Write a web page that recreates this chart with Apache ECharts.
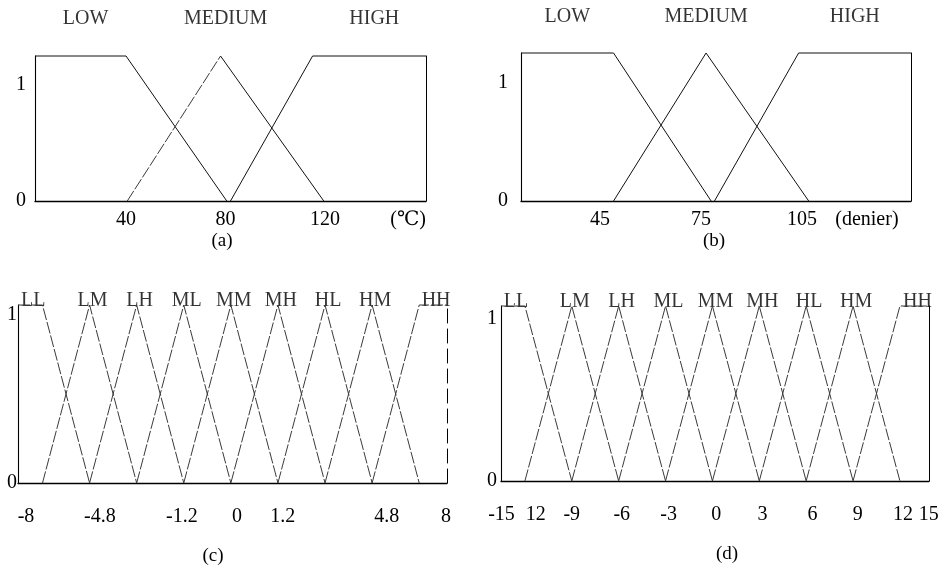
<!DOCTYPE html>
<html>
<head>
<meta charset="utf-8">
<title>membership functions</title>
<script src="https://cdn.jsdelivr.net/npm/echarts@6/dist/echarts.min.js"></script>
<style>
    html, body { margin: 0; padding: 0; background: #fff; }
    #main { width: 949px; height: 569px; }
</style>
</head>
<body>
<div id="main"></div>
<script>
    // (a) temperature
    let tempNames = ['LOW', 'MEDIUM', 'HIGH'];
    let tempLow = [[3.4, 1.25], [40, 1.25], [80.5, 0]];
    let tempMedium = [[40.5, 0], [78, 1.25], [119.5, 0]];
    let tempHigh = [[82, 0], [115, 1.25], [160.6, 1.25]];
    let tempTicks = [40, 80, 120, 153.4];
    let tempTickText = ['40', '80', '120', '(℃)'];

    // (b) denier
    let denierNames = ['LOW', 'MEDIUM', 'HIGH'];
    let denierLow = [[21.5, 1.25], [49, 1.25], [78, 0]];
    let denierMedium = [[49, 0], [76.5, 1.25], [107, 0]];
    let denierHigh = [[79, 0], [104, 1.25], [137.4, 1.25]];
    let denierTicks = [45, 75, 105, 124.3];
    let denierTickText = ['45', '75', '105', '(denier)'];

    // (c) nine sets, drawn evenly spaced
    let cNames = ['LL', 'LM', 'LH', 'ML', 'MM', 'MH', 'HL', 'HM', 'HH'];
    let cLL = [[-4.52, 1.06], [-4, 1.06], [-3, 0]];
    let cLM = [[-4, 0], [-3, 1.06], [-2, 0]];
    let cLH = [[-3, 0], [-2, 1.06], [-1, 0]];
    let cML = [[-2, 0], [-1, 1.06], [0, 0]];
    let cMM = [[-1, 0], [0, 1.06], [1, 0]];
    let cMH = [[0, 0], [1, 1.06], [2, 0]];
    let cHL = [[1, 0], [2, 1.06], [3, 0]];
    let cHM = [[2, 0], [3, 1.06], [4, 0]];
    let cHH = [[3, 0], [4, 1.06], [4.59, 1.06]];
    let cTicks = [-4.35, -2.78, -1.04, 0.13, 1.1, 3.31, 4.57];
    let cTickText = ['-8', '-4.8', '-1.2', '0', '1.2', '4.8', '8'];

    // (d)
    let dNames = ['LL', 'LM', 'LH', 'ML', 'MM', 'MH', 'HL', 'HM', 'HH'];
    let dLL = [[-13.53, 1.08], [-12, 1.08], [-9, 0]];
    let dLM = [[-12, 0], [-9, 1.08], [-6, 0]];
    let dLH = [[-9, 0], [-6, 1.08], [-3, 0]];
    let dML = [[-6, 0], [-3, 1.08], [0, 0]];
    let dMM = [[-3, 0], [0, 1.08], [3, 0]];
    let dMH = [[0, 0], [3, 1.08], [6, 0]];
    let dHL = [[3, 0], [6, 1.08], [9, 0]];
    let dHM = [[6, 0], [9, 1.08], [12, 0]];
    let dHH = [[9, 0], [12, 1.08], [13.86, 1.08]];
    let dTicks = [-13.5, -11.3, -9, -5.8, -2.8, 0.25, 3.2, 6.4, 9.3, 12.2, 13.84];
    let dTickText = ['-15', '12', '-9', '-6', '-3', '0', '3', '6', '9', '12', '15'];

    let yTicks = [0, 1];

    let serif = "'Liberation Serif', 'DejaVu Serif', serif";
    let ink = '#000';

    let grids = [
        {left: 35, top: 56, width: 391, height: 145},
        {left: 521, top: 53, width: 390, height: 148},
        {left: 18, top: 305, width: 429, height: 178},
        {left: 501, top: 306, width: 428, height: 175}
    ];
    let xRange = [[3.4, 160.6], [21.5, 137.4], [-4.52, 4.59], [-13.53, 13.86]];
    let yMax = [1.25, 1.25, 1.06, 1.08];
    let xLabels = [[tempTicks, tempTickText], [denierTicks, denierTickText], [cTicks, cTickText], [dTicks, dTickText]];
    let xMargin = [9, 9, 24, 24];
    let yMargin = [9, 13, 1, 4];

    let xAxis = [];
    let yAxis = [];
    for (let i = 0; i < 4; i++) {
        let ticks = xLabels[i][0];
        let texts = xLabels[i][1];
        xAxis.push({
            type: 'value', gridIndex: i, min: xRange[i][0], max: xRange[i][1],
            axisLine: {show: true, onZero: false, lineStyle: {color: ink, width: 1.3}},
            axisTick: {show: false},
            splitLine: {show: false},
            axisLabel: {
                customValues: ticks, margin: xMargin[i],
                color: ink, fontFamily: serif, fontSize: 20,
                formatter: function (v) { return texts[ticks.indexOf(v)]; }
            }
        });
    }
    for (let i = 0; i < 4; i++) {
        yAxis.push({
            type: 'value', gridIndex: i, min: 0, max: yMax[i], position: 'left',
            axisLine: {show: true, onZero: false, lineStyle: {color: ink, width: 1.1}},
            axisTick: {show: false},
            splitLine: {show: false},
            axisLabel: {customValues: yTicks, margin: yMargin[i], color: ink, fontFamily: serif, fontSize: 20}
        });
    }
    // right edge of each box
    for (let i = 0; i < 4; i++) {
        yAxis.push({
            type: 'value', gridIndex: i, min: 0, max: yMax[i], position: 'right',
            axisLine: {show: true, onZero: false, lineStyle: {color: ink, width: 1, type: i === 2 ? [14, 6] : 'solid'}},
            axisTick: {show: false}, axisLabel: {show: false}, splitLine: {show: false}
        });
    }

    function lineSeries(data, gi, dashed) {
        return {
            type: 'line', xAxisIndex: gi, yAxisIndex: gi, data: data,
            symbol: 'none', silent: true, clip: false,
            lineStyle: {color: dashed ? '#3a3a3a' : '#111', width: 1, type: dashed ? [12, 2] : 'solid'}
        };
    }

    // set names sit over the top of each set
    function nameSeries(names, sets, gi, dist, dx) {
        let data = names.map(function (n, i) {
            let set = sets[i];
            let top = Math.max.apply(null, set.map(function (p) { return p[1]; }));
            let xs = set.filter(function (p) { return p[1] === top; }).map(function (p) { return p[0]; });
            return {name: n, value: [(Math.min.apply(null, xs) + Math.max.apply(null, xs)) / 2, top]};
        });
        return {
            type: 'scatter', xAxisIndex: gi, yAxisIndex: gi, data: data,
            symbolSize: 0, silent: true, clip: false,
            label: {
                show: true, position: 'top', distance: dist, offset: [dx, 0],
                formatter: '{b}', color: ink, fontFamily: serif, fontSize: 20
            }
        };
    }

    let cSets = [cLL, cLM, cLH, cML, cMM, cMH, cHL, cHM, cHH];
    let dSets = [dLL, dLM, dLH, dML, dMM, dMH, dHL, dHM, dHH];

    let series = [
        lineSeries(tempLow, 0),
        lineSeries(tempMedium.slice(0, 2), 0, true),
        lineSeries(tempMedium.slice(1), 0),
        lineSeries(tempHigh, 0),
        lineSeries(denierLow, 1),
        lineSeries(denierMedium, 1),
        lineSeries(denierHigh, 1),
        nameSeries(tempNames, [tempLow, tempMedium, tempHigh], 0, 27, 5),
        nameSeries(denierNames, [denierLow, denierMedium, denierHigh], 1, 26, 0)
    ];
    cSets.forEach(function (s) { series.push(lineSeries(s, 2, true)); });
    dSets.forEach(function (s) { series.push(lineSeries(s, 3, true)); });
    series.push(nameSeries(cNames, cSets, 2, -6, 3));
    series.push(nameSeries(dNames, dSets, 3, -6, 3));

    let captions = [['(a)', 222, 241], ['(b)', 714, 241], ['(c)', 213, 556], ['(d)', 727, 554]];

    let myChart = echarts.init(document.getElementById('main'));
    myChart.setOption({
        backgroundColor: '#fff',
        animation: false,
        grid: grids,
        xAxis: xAxis,
        yAxis: yAxis,
        series: series,
        graphic: captions.map(function (c) {
            return {
                type: 'text', x: c[1], y: c[2],
                style: {text: c[0], fill: ink, font: '19px ' + serif, align: 'center', verticalAlign: 'middle'}
            };
        })
    });
</script>
</body>
</html>
